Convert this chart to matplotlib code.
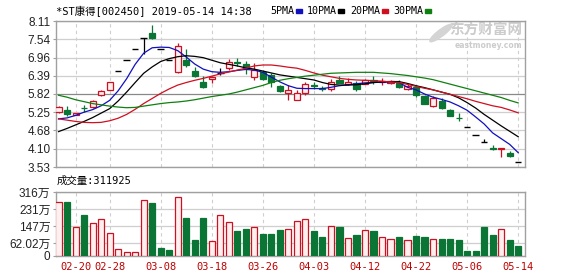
import numpy as np
import matplotlib.pyplot as plt
from matplotlib.patches import Rectangle, Ellipse

# dados (K-line diario, ultimo = 05-14)
opens = [5.25, 5.33, 5.17, 5.38, 5.40, 5.79, 5.95, 6.55, 6.88, 7.23,
         7.57, 7.72, 7.23, 6.88, 6.52, 6.89, 6.54, 6.20, 6.28, 6.47,
         6.62, 6.82, 6.76, 6.34, 6.52, 6.41, 6.06, 5.86, 5.64, 5.86,
         6.09, 6.00, 5.97, 6.26, 6.13, 6.18, 6.14, 6.26, 6.20, 6.16,
         6.18, 5.97, 6.03, 5.76, 5.45, 5.61, 5.31, 5.08, 4.78, 4.53,
         4.30, 4.13, 4.10, 3.98, 3.70]
highs = [5.43, 5.43, 5.23, 5.46, 5.64, 5.93, 6.21, 6.55, 6.88, 7.23,
         7.57, 7.97, 7.23, 6.88, 7.42, 7.23, 6.66, 6.38, 6.38, 6.64,
         6.91, 6.94, 6.86, 6.79, 6.57, 6.47, 6.10, 6.10, 5.94, 6.20,
         6.20, 6.07, 6.28, 6.38, 6.33, 6.23, 6.30, 6.37, 6.32, 6.25,
         6.25, 6.14, 6.11, 5.79, 5.76, 5.68, 5.35, 5.22, 4.78, 4.53,
         4.42, 4.22, 4.14, 4.03, 3.70]
lows = [5.23, 5.14, 5.15, 5.24, 5.38, 5.77, 5.93, 6.55, 6.88, 7.23,
        7.08, 7.55, 7.23, 6.88, 6.47, 6.68, 6.36, 6.02, 6.17, 6.41,
        6.57, 6.71, 6.45, 6.26, 6.26, 6.04, 5.89, 5.64, 5.64, 5.78,
        5.99, 5.92, 5.92, 6.17, 6.10, 5.92, 6.12, 6.14, 6.11, 6.14,
        6.00, 5.95, 5.73, 5.50, 5.41, 5.36, 5.12, 4.97, 4.78, 4.53,
        4.30, 4.05, 3.84, 3.84, 3.70]
closes = [5.41, 5.18, 5.21, 5.37, 5.61, 5.92, 6.20, 6.55, 6.88, 7.23,
          7.57, 7.59, 7.23, 6.88, 7.34, 6.72, 6.38, 6.05, 6.34, 6.47,
          6.81, 6.80, 6.63, 6.57, 6.30, 6.19, 5.92, 5.94, 5.85, 6.12,
          6.07, 5.98, 6.20, 6.18, 6.20, 5.97, 6.27, 6.24, 6.22, 6.23,
          6.03, 6.08, 5.79, 5.52, 5.68, 5.39, 5.14, 5.06, 4.78, 4.53,
          4.30, 4.11, 4.12, 3.89, 3.70]

# volume em 万
volumes = [267, 269, 145, 204, 165, 184, 114, 37, 21, 21,
           277, 262, 39, 28, 290, 189, 81, 189, 72, 202,
           169, 121, 135, 143, 109, 109, 130, 135, 174, 182,
           125, 96, 148, 145, 90, 106, 130, 125, 96, 86,
           96, 77, 101, 96, 86, 86, 86, 81, 23, 23,
           145, 106, 135, 81, 47]

# medias moveis
ma5 = [5.04, 5.07, 5.15, 5.25, 5.33, 5.45, 5.62, 5.92, 6.30, 6.75,
       7.10, 7.27, 7.29, 7.28, 7.18, 6.98, 6.76, 6.60, 6.52, 6.50,
       6.52, 6.56, 6.59, 6.57, 6.50, 6.35, 6.20, 6.08, 6.00, 5.99,
       5.99, 5.99, 6.03, 6.08, 6.11, 6.14, 6.17, 6.18, 6.19, 6.20,
       6.18, 6.03, 5.95, 5.82, 5.72, 5.65, 5.57, 5.45, 5.31, 5.10,
       4.88, 4.60, 4.42, 4.24, 3.98]
ma10 = [4.64, 4.74, 4.85, 4.96, 5.08, 5.22, 5.36, 5.60, 5.88, 6.18,
        6.47, 6.67, 6.84, 6.93, 6.99, 7.02, 7.00, 6.96, 6.88, 6.80,
        6.75, 6.70, 6.64, 6.60, 6.54, 6.48, 6.42, 6.38, 6.34, 6.30,
        6.26, 6.18, 6.12, 6.10, 6.10, 6.11, 6.14, 6.18, 6.20, 6.21,
        6.21, 6.15, 6.08, 6.02, 5.95, 5.88, 5.81, 5.70, 5.55, 5.38,
        5.18, 5.00, 4.82, 4.65, 4.48]
ma20 = [5.04, 5.00, 4.96, 4.93, 4.92, 4.93, 4.98, 5.06, 5.18, 5.34,
        5.52, 5.68, 5.84, 5.98, 6.10, 6.18, 6.25, 6.31, 6.38, 6.45,
        6.51, 6.57, 6.63, 6.70, 6.73, 6.73, 6.70, 6.66, 6.63, 6.56,
        6.48, 6.41, 6.36, 6.31, 6.28, 6.26, 6.25, 6.24, 6.22, 6.20,
        6.18, 6.12, 6.06, 6.00, 5.95, 5.88, 5.81, 5.74, 5.67, 5.59,
        5.52, 5.45, 5.40, 5.32, 5.23]
ma30 = [5.78, 5.72, 5.64, 5.58, 5.52, 5.48, 5.44, 5.41, 5.39, 5.40,
        5.44, 5.48, 5.52, 5.55, 5.57, 5.60, 5.64, 5.69, 5.74, 5.78,
        5.82, 5.88, 5.95, 6.02, 6.09, 6.18, 6.25, 6.30, 6.34, 6.38,
        6.41, 6.44, 6.47, 6.48, 6.49, 6.50, 6.50, 6.50, 6.48, 6.46,
        6.43, 6.40, 6.36, 6.32, 6.27, 6.20, 6.13, 6.06, 5.99, 5.92,
        5.85, 5.78, 5.71, 5.62, 5.54]

price_ticks = [3.53, 4.10, 4.68, 5.25, 5.82, 6.39, 6.96, 7.54, 8.11]
vol_ticks = [0, 62.02, 147, 231, 316]
vol_labels = ['0', '62.02万', '147万', '231万', '316万']
date_idx = [2, 6, 12, 18, 24, 30, 36, 42, 48, 54]
date_labels = ['02-20', '02-28', '03-08', '03-18', '03-26',
               '04-03', '04-12', '04-22', '05-06', '05-14']

RED = '#cc1122'
PINK = '#fff0f0'
GREEN = '#0a7534'
GRID = '#cfcfcf'
FRAME = '#a0a0a0'

plt.rcParams['font.family'] = ['DejaVu Sans Mono', 'Noto Sans CJK SC']

W, H = 578, 276
fig = plt.figure(figsize=(W / 100, H / 100), dpi=100)
ax1 = fig.add_axes([56 / W, 1 - 167 / H, 469 / W, 146 / H])
ax2 = fig.add_axes([56 / W, 1 - 256 / H, 469 / W, 64 / H])

x = np.arange(len(closes))
o = np.array(opens)
c = np.array(closes)
hi = np.array(highs)
lo = np.array(lows)

# cor de cada vela
cores = []
for i in range(len(c)):
    if c[i] > o[i]:
        cores.append(RED)
    elif c[i] < o[i]:
        cores.append(GREEN)
    else:
        cores.append('black')

# velas
for i in range(len(c)):
    ax1.vlines(x[i], lo[i], hi[i], color=cores[i], lw=0.9, zorder=3)
    if c[i] == o[i]:
        ax1.hlines(c[i], x[i] - 0.38, x[i] + 0.38, color='black', lw=1.0, zorder=4)
    elif c[i] > o[i]:
        ax1.bar(x[i], c[i] - o[i], bottom=o[i], width=0.72, facecolor=PINK,
                edgecolor=RED, lw=0.9, zorder=4)
    else:
        ax1.bar(x[i], o[i] - c[i], bottom=c[i], width=0.72, facecolor=GREEN,
                edgecolor=GREEN, lw=0.9, zorder=4)

ax1.plot(x, ma5, color='#1010c0', lw=0.9, zorder=5)
ax1.plot(x, ma10, color='black', lw=0.9, zorder=5)
ax1.plot(x, ma20, color='#d01020', lw=0.9, zorder=5)
ax1.plot(x, ma30, color='#108010', lw=0.9, zorder=5)

# volume
for i in range(len(volumes)):
    if cores[i] == RED or (cores[i] == 'black' and i > 0 and c[i] > c[i - 1]):
        ax2.bar(x[i], volumes[i], width=0.72, facecolor=PINK, edgecolor=RED,
                lw=0.9, zorder=3)
    else:
        ax2.bar(x[i], volumes[i], width=0.72, facecolor=GREEN, edgecolor=GREEN,
                lw=0.9, zorder=3)

for ax in (ax1, ax2):
    ax.set_xlim(-0.3, 54.8)
    for s in ax.spines.values():
        s.set_color(FRAME)
        s.set_linewidth(1.0)
    for d in date_idx:
        ax.axvline(d, color=GRID, lw=0.8, ls=(0, (3, 3)), zorder=1)
    ax.tick_params(length=2, color=FRAME, pad=2)
    ax.set_xticks(date_idx)

ax1.set_ylim(3.53, 8.11)
ax1.set_yticks(price_ticks)
ax1.set_yticklabels(['%.2f' % v for v in price_ticks], family='Liberation Sans',
                    fontsize=8.5, color='#222222')
for v in price_ticks:
    ax1.axhline(v, color='#888888' if v == 5.82 else GRID, lw=0.9, zorder=1)
ax1.set_xticklabels([])
ax1.tick_params(axis='x', length=0)

ax2.set_ylim(0, 316)
ax2.set_yticks(vol_ticks)
ax2.set_yticklabels(vol_labels, family=['Liberation Sans', 'Noto Sans CJK SC'],
                    fontsize=8.5, color='#222222')
for v in vol_ticks:
    ax2.axhline(v, color=GRID, lw=0.9, zorder=1)
ax2.set_xticklabels(date_labels, fontsize=7.5, color='#c00000')
ax2.tick_params(axis='x', length=0, pad=4)

# titulo e legenda
fig.text(56 / W, 1 - 11 / H, '*ST康得[002450] 2019-05-14 14:38', fontsize=7.5,
         va='center', ha='left')
leg = [('5PMA', 270, 296, '#1010c0'), ('10PMA', 307, 338, 'black'),
       ('20PMA', 350, 382, '#d01020'), ('30PMA', 393, 425, '#108010')]
for nome, tx, sx, cor in leg:
    fig.text(tx / W, 1 - 11 / H, nome, fontsize=7.2, va='center', ha='left')
    fig.patches.append(Rectangle((sx / W, 1 - 12.5 / H), 6 / W, 3.5 / H,
                                 transform=fig.transFigure, color=cor))

fig.text(57 / W, 1 - 181 / H, '成交量:311925', fontsize=7.5, va='center', ha='left')

# marca d'agua (logo + texto)
fig.patches.append(Ellipse((441 / W, 1 - 33 / H), 9 / W, 20 / H, angle=-30,
                           transform=fig.transFigure, color='#d4d4d4', zorder=0))
ax1.text(0.995, 0.94, '东方财富网', transform=ax1.transAxes, ha='right', va='center',
         family='Noto Sans CJK SC', fontsize=10.5, fontweight='bold', color='#cccccc',
         zorder=0)
ax1.text(0.995, 0.83, 'eastmoney.com', transform=ax1.transAxes, ha='right',
         va='center', family='DejaVu Sans', fontsize=5.5, fontweight='bold',
         color='#cccccc', zorder=0)

fig.savefig('out.png', dpi=100)
